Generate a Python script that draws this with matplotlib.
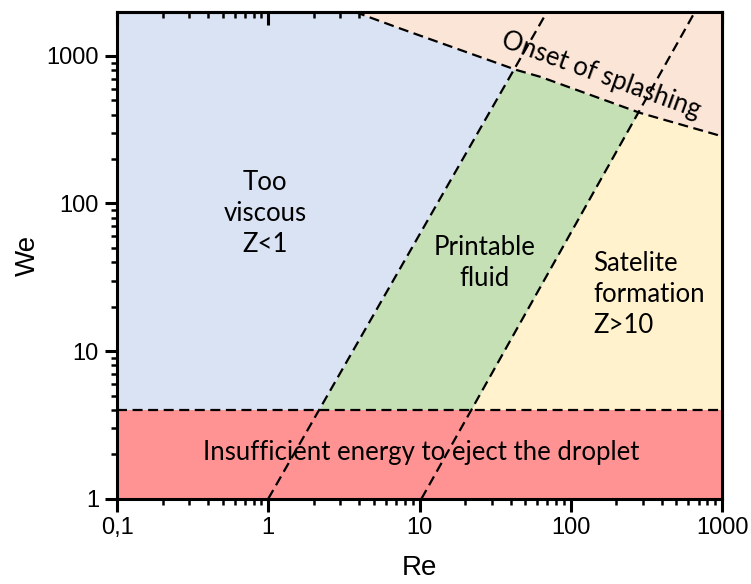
import numpy as np
import matplotlib
matplotlib.use('Agg')
import matplotlib.pyplot as plt
from matplotlib.ticker import FixedLocator, FixedFormatter, LogLocator, NullFormatter

# data
x_ticks = [0.1, 1, 10, 100, 1000]
x_ticklabels = ['0,1', '1', '10', '100', '1000']
y_ticks = [1, 10, 100, 1000]
y_ticklabels = ['1', '10', '100', '1000']

# Z = 1 boundary (Re, We)
z1_re = [1.0, 70.0]
z1_we = [1.0, 2000.0]
# Z = 10 boundary
z10_re = [10.3, 665.0]
z10_we = [1.0, 2000.0]
# onset of splashing
splash_re = [3.75, 7.45, 44.0, 63.0, 288.0, 1000.0]
splash_we = [1980.0, 1530.0, 800.0, 720.0, 410.0, 285.0]
# minimum We to eject a droplet
we_min = 4.0

xlim = (0.1, 1000)
ylim = (1, 1980)

c_blue = '#dae3f3'
c_green = '#c5e0b4'
c_yellow = '#fff2cc'
c_peach = '#fbe5d6'
c_red = '#ff9393'

txt_font = ['Lato', 'DejaVu Sans']
tick_font = ['Liberation Sans', 'DejaVu Sans']

fig = plt.figure(figsize=(7.51, 5.84), dpi=100)
ax = fig.add_axes([0.1558, 0.146, 0.8056, 0.8335])
ax.set_xscale('log')
ax.set_yscale('log')
ax.set_xlim(*xlim)
ax.set_ylim(*ylim)
ax.set_facecolor(c_blue)

# regions
ax.fill_betweenx(z1_we, z1_re, z10_re, color=c_green, lw=0, zorder=1)
ax.fill_betweenx(z10_we, z10_re, [xlim[1]] * len(z10_we), color=c_yellow, lw=0, zorder=1)
ax.fill_between(splash_re, splash_we, ylim[1], color=c_peach, lw=0, zorder=2)
ax.axhspan(ylim[0], we_min, color=c_red, lw=0, zorder=3)

# boundaries
dash = dict(color='black', lw=1.6, ls=(0, (4.5, 2.5)), zorder=5)
ax.plot(z1_re, z1_we, **dash)
ax.plot(z10_re, z10_we, **dash)
ax.plot(splash_re, splash_we, **dash)
ax.axhline(we_min, **dash)

# labels in the regions
fs = 18.5
tk = dict(fontsize=fs, family=txt_font, ha='center', va='center', zorder=6)
ax.text(0.245, 0.587, 'Too\nviscous\nZ<1', transform=ax.transAxes, linespacing=1.3, **tk)
ax.text(0.608, 0.485, 'Printable\nfluid', transform=ax.transAxes, linespacing=1.3, **tk)
ax.text(0.787, 0.419, 'Satelite\nformation\nZ>10', transform=ax.transAxes,
        linespacing=1.3, fontsize=fs, family=txt_font, ha='left', va='center', zorder=6)
ax.text(0.502, 0.094, 'Insufficient energy to eject the droplet', transform=ax.transAxes, **tk)
ax.text(0.800, 0.870, 'Onset of splashing', transform=ax.transAxes, rotation=-20,
        rotation_mode='anchor', **tk)

# axes styling
for s in ax.spines.values():
    s.set_linewidth(2.2)
    s.set_zorder(10)

ax.xaxis.set_major_locator(FixedLocator(x_ticks))
ax.xaxis.set_major_formatter(FixedFormatter(x_ticklabels))
ax.yaxis.set_major_locator(FixedLocator(y_ticks))
ax.yaxis.set_major_formatter(FixedFormatter(y_ticklabels))
for a in (ax.xaxis, ax.yaxis):
    a.set_minor_locator(LogLocator(base=10, subs=np.arange(2, 10)))
    a.set_minor_formatter(NullFormatter())
ax.tick_params(which='major', direction='out', length=9, width=2.2, labelsize=17, pad=4)
ax.tick_params(which='minor', direction='out', length=4.5, width=1.8)
for lab in ax.get_xticklabels() + ax.get_yticklabels():
    lab.set_family(tick_font)

# mirrored ticks pointing inwards on top and right
top = ax.secondary_xaxis('top')
top.xaxis.set_major_locator(FixedLocator(x_ticks))
top.xaxis.set_minor_locator(LogLocator(base=10, subs=np.arange(2, 10)))
top.xaxis.set_major_formatter(NullFormatter())
top.xaxis.set_minor_formatter(NullFormatter())
top.tick_params(which='major', direction='in', length=9, width=2.2)
top.tick_params(which='minor', direction='in', length=4.5, width=1.8)
top.spines['top'].set_linewidth(2.2)

right = ax.secondary_yaxis('right')
right.yaxis.set_major_locator(FixedLocator(y_ticks))
right.yaxis.set_minor_locator(LogLocator(base=10, subs=np.arange(2, 10)))
right.yaxis.set_major_formatter(NullFormatter())
right.yaxis.set_minor_formatter(NullFormatter())
right.tick_params(which='major', direction='in', length=9, width=2.2)
right.tick_params(which='minor', direction='in', length=4.5, width=1.8)
right.spines['right'].set_linewidth(2.2)

ax.set_xlabel('Re', fontsize=20, family=tick_font, labelpad=12)
ax.set_ylabel('We', fontsize=20, family=tick_font, labelpad=4)

fig.savefig('out.png', dpi=100, facecolor='white')
